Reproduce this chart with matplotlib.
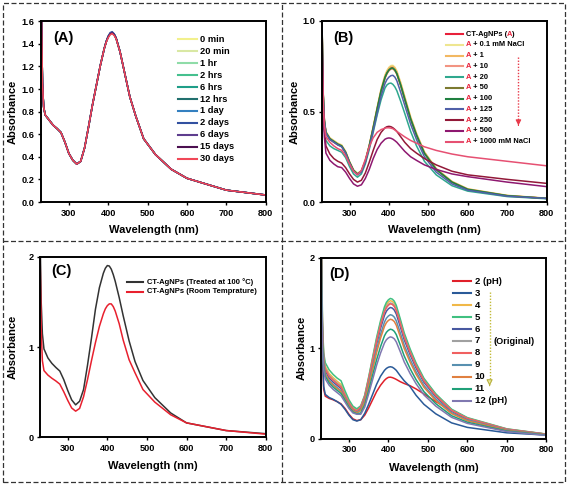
import matplotlib
matplotlib.use('Agg')
import matplotlib.pyplot as plt
from matplotlib.lines import Line2D
from matplotlib.patches import Rectangle

plt.rcParams['font.family'] = ['Liberation Sans', 'DejaVu Sans']
plt.rcParams['font.weight'] = 'bold'
plt.rcParams['axes.labelweight'] = 'bold'

# ---------------- data ----------------
wavelength = [230, 233, 236, 240, 250, 260, 270, 280, 290, 300, 310, 320, 330, 340, 350, 360,
              370, 380, 390, 395, 400, 405, 410, 415, 420, 430, 440, 455, 470, 490, 520, 560,
              600, 700, 800]

# Panel A : stability with time
a_labels = ['0 min', '20 min', '1 hr', '2 hrs', '6 hrs', '12 hrs', '1 day', '2 days', '6 days', '15 days', '30 days']
a_colors = ['#f2f08c', '#d9e8a4', '#8fdca8', '#45c08e', '#1f9e88', '#22706e', '#3480c0', '#3250a0', '#5e3d8e', '#4c1050', '#f04858']
a_abs = [
    [1.75, 1.05, 0.84, 0.77, 0.725, 0.68, 0.65, 0.615, 0.53, 0.43, 0.37, 0.336, 0.36, 0.48, 0.665, 0.86, 1.035, 1.21, 1.36, 1.42, 1.465, 1.492, 1.50, 1.485, 1.45, 1.33, 1.17, 0.93, 0.76, 0.56, 0.42, 0.29, 0.21, 0.105, 0.062],
    [1.75, 1.05, 0.84, 0.77, 0.725, 0.68, 0.65, 0.615, 0.53, 0.43, 0.37, 0.336, 0.36, 0.48, 0.665, 0.86, 1.035, 1.21, 1.36, 1.42, 1.465, 1.492, 1.50, 1.485, 1.45, 1.33, 1.17, 0.93, 0.76, 0.56, 0.42, 0.29, 0.21, 0.105, 0.062],
    [1.75, 1.05, 0.84, 0.77, 0.725, 0.68, 0.65, 0.615, 0.53, 0.43, 0.37, 0.336, 0.36, 0.48, 0.665, 0.86, 1.035, 1.21, 1.36, 1.42, 1.465, 1.492, 1.50, 1.485, 1.45, 1.33, 1.17, 0.93, 0.76, 0.56, 0.42, 0.29, 0.21, 0.105, 0.062],
    [1.75, 1.05, 0.84, 0.77, 0.725, 0.68, 0.65, 0.615, 0.53, 0.43, 0.37, 0.336, 0.36, 0.48, 0.665, 0.86, 1.035, 1.21, 1.36, 1.42, 1.465, 1.492, 1.50, 1.485, 1.45, 1.33, 1.17, 0.93, 0.76, 0.56, 0.42, 0.29, 0.21, 0.105, 0.062],
    [1.75, 1.05, 0.84, 0.77, 0.725, 0.68, 0.65, 0.615, 0.53, 0.43, 0.37, 0.336, 0.36, 0.48, 0.665, 0.86, 1.035, 1.21, 1.36, 1.42, 1.465, 1.492, 1.50, 1.485, 1.45, 1.33, 1.17, 0.93, 0.76, 0.56, 0.42, 0.29, 0.21, 0.105, 0.062],
    [1.75, 1.05, 0.84, 0.77, 0.725, 0.68, 0.65, 0.615, 0.53, 0.43, 0.37, 0.336, 0.36, 0.48, 0.665, 0.86, 1.035, 1.21, 1.36, 1.42, 1.465, 1.492, 1.50, 1.485, 1.45, 1.33, 1.17, 0.93, 0.76, 0.56, 0.42, 0.29, 0.21, 0.105, 0.062],
    [1.75, 1.05, 0.84, 0.77, 0.725, 0.68, 0.65, 0.615, 0.53, 0.43, 0.37, 0.336, 0.36, 0.48, 0.665, 0.86, 1.035, 1.21, 1.36, 1.42, 1.465, 1.492, 1.50, 1.485, 1.45, 1.33, 1.17, 0.93, 0.76, 0.56, 0.42, 0.29, 0.21, 0.105, 0.062],
    [1.75, 1.05, 0.84, 0.77, 0.725, 0.68, 0.65, 0.615, 0.53, 0.43, 0.37, 0.336, 0.36, 0.48, 0.665, 0.86, 1.035, 1.21, 1.36, 1.425, 1.47, 1.50, 1.508, 1.49, 1.455, 1.33, 1.17, 0.93, 0.76, 0.56, 0.42, 0.29, 0.21, 0.105, 0.062],
    [1.75, 1.05, 0.84, 0.77, 0.725, 0.68, 0.65, 0.615, 0.53, 0.43, 0.37, 0.336, 0.36, 0.48, 0.665, 0.86, 1.035, 1.21, 1.36, 1.42, 1.465, 1.492, 1.50, 1.485, 1.45, 1.33, 1.17, 0.93, 0.76, 0.56, 0.42, 0.29, 0.21, 0.105, 0.062],
    [1.75, 1.05, 0.84, 0.77, 0.725, 0.68, 0.65, 0.615, 0.53, 0.43, 0.37, 0.336, 0.36, 0.48, 0.665, 0.86, 1.035, 1.21, 1.36, 1.418, 1.46, 1.487, 1.495, 1.48, 1.45, 1.33, 1.17, 0.93, 0.76, 0.56, 0.42, 0.29, 0.21, 0.105, 0.062],
    [1.75, 1.05, 0.84, 0.77, 0.725, 0.68, 0.65, 0.615, 0.53, 0.43, 0.37, 0.336, 0.36, 0.48, 0.665, 0.86, 1.035, 1.21, 1.36, 1.415, 1.455, 1.482, 1.49, 1.475, 1.445, 1.33, 1.17, 0.93, 0.76, 0.56, 0.42, 0.29, 0.21, 0.105, 0.062],
]

# Panel B : NaCl
b_labels = ['CT-AgNPs (A)', 'A + 0.1 mM NaCl', 'A + 1', 'A + 10', 'A + 20', 'A + 50', 'A + 100',
            'A + 125', 'A + 250', 'A + 500', 'A + 1000 mM NaCl']
b_colors = ['#e8203a', '#eee690', '#f2b862', '#f29482', '#2fa88e', '#7c7a30', '#1f8040',
            '#5060a8', '#921838', '#8e1870', '#e65072']
b_abs = [
    [0.98, 0.59, 0.445, 0.38, 0.348, 0.333, 0.318, 0.308, 0.272, 0.218, 0.174, 0.154, 0.17, 0.225, 0.31, 0.41, 0.515, 0.615, 0.69, 0.715, 0.732, 0.741, 0.742, 0.732, 0.712, 0.647, 0.572, 0.462, 0.372, 0.272, 0.181, 0.111, 0.071, 0.035, 0.02],
    [1.0, 0.61, 0.455, 0.39, 0.355, 0.34, 0.325, 0.315, 0.28, 0.224, 0.178, 0.158, 0.174, 0.23, 0.316, 0.418, 0.524, 0.626, 0.702, 0.727, 0.745, 0.754, 0.755, 0.745, 0.725, 0.66, 0.585, 0.472, 0.38, 0.278, 0.186, 0.114, 0.073, 0.037, 0.021],
    [1.0, 0.605, 0.452, 0.388, 0.353, 0.338, 0.323, 0.313, 0.278, 0.222, 0.177, 0.157, 0.172, 0.228, 0.314, 0.415, 0.52, 0.622, 0.698, 0.723, 0.74, 0.749, 0.75, 0.74, 0.72, 0.655, 0.58, 0.468, 0.377, 0.276, 0.184, 0.113, 0.072, 0.036, 0.021],
    [0.98, 0.59, 0.44, 0.378, 0.344, 0.33, 0.316, 0.306, 0.271, 0.217, 0.173, 0.153, 0.168, 0.222, 0.307, 0.406, 0.51, 0.608, 0.683, 0.708, 0.725, 0.734, 0.735, 0.725, 0.705, 0.64, 0.566, 0.456, 0.367, 0.268, 0.178, 0.109, 0.069, 0.034, 0.02],
    [0.9, 0.55, 0.40, 0.34, 0.31, 0.295, 0.285, 0.275, 0.245, 0.195, 0.155, 0.137, 0.155, 0.21, 0.29, 0.385, 0.48, 0.565, 0.63, 0.647, 0.655, 0.657, 0.65, 0.636, 0.615, 0.555, 0.49, 0.39, 0.31, 0.225, 0.15, 0.09, 0.06, 0.03, 0.018],
    [0.99, 0.595, 0.447, 0.382, 0.347, 0.332, 0.318, 0.308, 0.273, 0.219, 0.174, 0.154, 0.169, 0.224, 0.309, 0.408, 0.512, 0.612, 0.686, 0.711, 0.728, 0.737, 0.738, 0.728, 0.708, 0.643, 0.568, 0.458, 0.368, 0.268, 0.179, 0.109, 0.069, 0.034, 0.02],
    [1.0, 0.60, 0.45, 0.385, 0.35, 0.335, 0.32, 0.31, 0.275, 0.22, 0.175, 0.155, 0.17, 0.225, 0.31, 0.41, 0.515, 0.615, 0.69, 0.714, 0.73, 0.739, 0.74, 0.73, 0.71, 0.645, 0.57, 0.46, 0.37, 0.27, 0.18, 0.11, 0.07, 0.035, 0.02],
    [1.0, 0.6, 0.45, 0.38, 0.345, 0.33, 0.315, 0.305, 0.27, 0.215, 0.17, 0.15, 0.165, 0.22, 0.30, 0.395, 0.49, 0.585, 0.655, 0.677, 0.69, 0.698, 0.70, 0.69, 0.67, 0.605, 0.535, 0.43, 0.345, 0.25, 0.165, 0.10, 0.065, 0.032, 0.02],
    [0.9, 0.55, 0.40, 0.31, 0.265, 0.24, 0.225, 0.215, 0.19, 0.155, 0.125, 0.11, 0.12, 0.16, 0.22, 0.285, 0.345, 0.385, 0.41, 0.416, 0.418, 0.416, 0.41, 0.401, 0.39, 0.36, 0.33, 0.295, 0.27, 0.24, 0.205, 0.17, 0.15, 0.125, 0.103],
    [0.85, 0.5, 0.36, 0.27, 0.23, 0.21, 0.195, 0.19, 0.165, 0.13, 0.10, 0.087, 0.095, 0.13, 0.18, 0.24, 0.29, 0.325, 0.347, 0.352, 0.354, 0.352, 0.347, 0.339, 0.33, 0.305, 0.28, 0.25, 0.23, 0.205, 0.18, 0.155, 0.14, 0.11, 0.085],
    [0.9, 0.55, 0.42, 0.36, 0.33, 0.31, 0.295, 0.285, 0.255, 0.21, 0.17, 0.15, 0.175, 0.235, 0.305, 0.355, 0.385, 0.40, 0.408, 0.41, 0.41, 0.408, 0.405, 0.398, 0.39, 0.375, 0.36, 0.34, 0.325, 0.305, 0.285, 0.265, 0.25, 0.225, 0.20],
]

# Panel C : thermal stability
c_labels = ['CT-AgNPs (Treated at 100 \u00b0C)', 'CT-AgNPs (Room Temprature)']
c_colors = ['#333333', '#e8202e']
c_abs = [
    [2.3, 1.5, 1.15, 0.98, 0.88, 0.82, 0.775, 0.735, 0.64, 0.52, 0.415, 0.36, 0.40, 0.53, 0.80, 1.10, 1.42, 1.66, 1.82, 1.875, 1.905, 1.90, 1.865, 1.805, 1.73, 1.55, 1.35, 1.07, 0.84, 0.63, 0.44, 0.27, 0.16, 0.075, 0.04],
    [2.1, 1.2, 0.85, 0.74, 0.69, 0.655, 0.625, 0.59, 0.505, 0.41, 0.325, 0.29, 0.32, 0.45, 0.64, 0.85, 1.05, 1.23, 1.37, 1.425, 1.46, 1.48, 1.48, 1.45, 1.40, 1.26, 1.08, 0.86, 0.715, 0.53, 0.39, 0.25, 0.16, 0.075, 0.035],
]

# Panel D : pH
d_labels = ['2 (pH)', '3', '4', '5', '6', '7', '8', '9', '10', '11', '12 (pH)']
d_colors = ['#e0202a', '#2a5a98', '#f0b848', '#40c080', '#4858a0', '#a0a0a0', '#f06060',
            '#5890b0', '#e08040', '#20a078', '#8078b0']
d_abs = [
    [2.0, 0.9, 0.55, 0.47, 0.445, 0.43, 0.41, 0.385, 0.335, 0.27, 0.22, 0.20, 0.21, 0.26, 0.34, 0.43, 0.52, 0.59, 0.645, 0.665, 0.678, 0.68, 0.675, 0.666, 0.655, 0.63, 0.61, 0.585, 0.55, 0.495, 0.41, 0.31, 0.205, 0.095, 0.05],
    [2.0, 0.95, 0.58, 0.49, 0.455, 0.435, 0.41, 0.38, 0.325, 0.26, 0.21, 0.195, 0.21, 0.28, 0.38, 0.49, 0.60, 0.69, 0.755, 0.777, 0.79, 0.795, 0.79, 0.775, 0.755, 0.695, 0.64, 0.575, 0.48, 0.38, 0.275, 0.175, 0.125, 0.065, 0.04],
    [2.2, 1.25, 0.92, 0.80, 0.72, 0.675, 0.635, 0.60, 0.50, 0.41, 0.345, 0.32, 0.358, 0.473, 0.671, 0.885, 1.098, 1.281, 1.434, 1.482, 1.510, 1.525, 1.517, 1.495, 1.449, 1.304, 1.151, 0.976, 0.824, 0.656, 0.488, 0.320, 0.229, 0.107, 0.050],
    [2.3, 1.3, 0.95, 0.84, 0.76, 0.71, 0.67, 0.64, 0.53, 0.43, 0.36, 0.33, 0.364, 0.481, 0.682, 0.899, 1.116, 1.302, 1.457, 1.507, 1.535, 1.55, 1.542, 1.519, 1.473, 1.325, 1.170, 0.992, 0.837, 0.667, 0.496, 0.326, 0.233, 0.109, 0.051],
    [2.1, 1.15, 0.86, 0.75, 0.67, 0.625, 0.59, 0.555, 0.465, 0.385, 0.325, 0.30, 0.341, 0.450, 0.638, 0.841, 1.044, 1.218, 1.363, 1.409, 1.436, 1.45, 1.443, 1.421, 1.378, 1.240, 1.095, 0.928, 0.783, 0.624, 0.464, 0.305, 0.218, 0.102, 0.048],
    [2.2, 1.2, 0.9, 0.78, 0.70, 0.655, 0.615, 0.58, 0.485, 0.40, 0.335, 0.31, 0.353, 0.465, 0.660, 0.870, 1.080, 1.260, 1.410, 1.458, 1.485, 1.50, 1.493, 1.47, 1.425, 1.283, 1.133, 0.960, 0.810, 0.645, 0.480, 0.315, 0.225, 0.105, 0.050],
    [2.2, 1.2, 0.88, 0.77, 0.69, 0.645, 0.605, 0.57, 0.48, 0.395, 0.33, 0.305, 0.350, 0.462, 0.656, 0.864, 1.073, 1.252, 1.401, 1.448, 1.475, 1.49, 1.483, 1.46, 1.416, 1.274, 1.125, 0.954, 0.805, 0.641, 0.477, 0.313, 0.224, 0.104, 0.049],
    [2.1, 1.1, 0.83, 0.72, 0.645, 0.60, 0.565, 0.53, 0.45, 0.37, 0.31, 0.29, 0.322, 0.425, 0.603, 0.795, 0.986, 1.151, 1.288, 1.332, 1.356, 1.37, 1.363, 1.343, 1.302, 1.171, 1.034, 0.877, 0.740, 0.589, 0.438, 0.288, 0.206, 0.096, 0.045],
    [2.0, 1.1, 0.82, 0.71, 0.635, 0.59, 0.555, 0.52, 0.44, 0.365, 0.305, 0.285, 0.310, 0.409, 0.581, 0.766, 0.950, 1.109, 1.241, 1.283, 1.307, 1.32, 1.313, 1.294, 1.254, 1.129, 0.997, 0.845, 0.713, 0.568, 0.422, 0.277, 0.198, 0.092, 0.044],
    [2.0, 1.05, 0.80, 0.69, 0.615, 0.57, 0.535, 0.50, 0.425, 0.35, 0.295, 0.275, 0.284, 0.375, 0.532, 0.702, 0.871, 1.016, 1.137, 1.176, 1.198, 1.21, 1.204, 1.186, 1.150, 1.035, 0.914, 0.774, 0.653, 0.520, 0.387, 0.254, 0.182, 0.085, 0.040],
    [1.9, 1.0, 0.77, 0.66, 0.59, 0.545, 0.51, 0.475, 0.405, 0.335, 0.285, 0.27, 0.27, 0.349, 0.495, 0.653, 0.810, 0.945, 1.058, 1.094, 1.114, 1.125, 1.119, 1.103, 1.069, 0.962, 0.849, 0.720, 0.608, 0.484, 0.360, 0.236, 0.169, 0.079, 0.037],
]

x_ticks = [300, 400, 500, 600, 700, 800]
a_yticks = [0.0, 0.2, 0.4, 0.6, 0.8, 1.0, 1.2, 1.4, 1.6]
b_yticks = [0.0, 0.5, 1.0]
cd_yticks = [0, 1, 2]

# ---------------- figure ----------------
fig = plt.figure(figsize=(5.67, 4.84), dpi=100)
W, H = 567.0, 484.0


def fax(l, t, r, b):
    return fig.add_axes([l / W, 1 - b / H, (r - l) / W, (b - t) / H])


axA = fax(41.3, 21.3, 265.7, 202)
axB = fax(322, 21, 546.5, 202)
axC = fax(40, 257, 265.7, 437.3)
axD = fax(321.3, 257.7, 546.3, 438.7)


def style(ax, ylim, yticks, ylabels, xlabel, xl_y, yl_x):
    ax.set_xlim(230, 800)
    ax.set_ylim(*ylim)
    ax.set_xticks(x_ticks)
    ax.set_yticks(yticks)
    ax.set_yticklabels(ylabels)
    ax.tick_params(direction='out', length=2.5, width=1.0, labelsize=6.6, pad=2.2)
    for lab in ax.get_xticklabels() + ax.get_yticklabels():
        lab.set_fontweight('bold')
    for s in ax.spines.values():
        s.set_linewidth(1.4)
    ax.text(0.5, xl_y, xlabel, transform=ax.transAxes, ha='center', va='center',
            fontsize=8, fontweight='bold')
    ax.text(yl_x, 0.5, 'Absorbance', transform=ax.transAxes, ha='center', va='center',
            rotation=90, fontsize=8, fontweight='bold')


def legend_rows(ax, colors, labels, x0, x1, xt, ytop, dy, fs, lw=1.5):
    for i, (c, lab) in enumerate(zip(colors, labels)):
        y = ytop - i * dy
        ax.add_line(Line2D([x0, x1], [y, y], transform=ax.transAxes, color=c, lw=lw))
        ax.text(xt, y, lab, transform=ax.transAxes, ha='left', va='center',
                fontsize=fs, fontweight='bold')


# Panel A
for ys, c in zip(a_abs, a_colors):
    axA.plot(wavelength, ys, color=c, lw=1.1)
style(axA, (0, 1.6), a_yticks, ['%.1f' % v for v in a_yticks], 'Wavelength (nm)', -0.155, -0.128)
axA.text(0.053, 0.906, '(A)', transform=axA.transAxes, fontsize=10.5, fontweight='bold', va='center')
legend_rows(axA, a_colors, a_labels, 0.610, 0.695, 0.707, 0.902, 0.0664, 6.7)

# Panel B
for ys, c in zip(b_abs, b_colors):
    axB.plot(wavelength, ys, color=c, lw=1.1)
style(axB, (0, 1.0), b_yticks, ['%.1f' % v for v in b_yticks], 'Wavelemgth (nm)', -0.155, -0.12)
axB.text(0.049, 0.906, '(B)', transform=axB.transAxes, fontsize=10.5, fontweight='bold', va='center')
red_a = '#e8203a'
fsb = 5.4
for i, (c, lab) in enumerate(zip(b_colors, b_labels)):
    y = 0.927 - i * 0.0594
    axB.add_line(Line2D([0.554, 0.629], [y, y], transform=axB.transAxes, color=c, lw=1.5))
    if lab.startswith('CT'):
        t1 = axB.text(0.641, y, 'CT-AgNPs (', transform=axB.transAxes, ha='left', va='center',
                      fontsize=fsb, fontweight='bold')
        t2 = axB.annotate('A', xy=(1, 0), xycoords=t1, ha='left', va='bottom',
                          fontsize=fsb, fontweight='bold', color=red_a)
        axB.annotate(')', xy=(1, 0), xycoords=t2, ha='left', va='bottom',
                     fontsize=fsb, fontweight='bold')
    else:
        t1 = axB.text(0.641, y, 'A', transform=axB.transAxes, ha='left', va='center',
                      fontsize=fsb, fontweight='bold', color=red_a)
        axB.annotate(lab[1:], xy=(1, 0), xycoords=t1, ha='left', va='bottom',
                     fontsize=fsb, fontweight='bold')
axB.plot([0.875, 0.875], [0.803, 0.43], transform=axB.transAxes, color='#e83a4a',
         lw=1.0, ls=(0, (1, 1.2)))
axB.annotate('', xy=(0.875, 0.407), xytext=(0.875, 0.44), xycoords='axes fraction',
             arrowprops=dict(arrowstyle='-|>', color='#e83a4a', lw=0.8, mutation_scale=8))

# Panel C
for ys, c in zip(c_abs, c_colors):
    axC.plot(wavelength, ys, color=c, lw=1.1)
style(axC, (0, 2), cd_yticks, ['0', '1', '2'], 'Wavelength (nm)', -0.159, -0.12)
axC.text(0.05, 0.92, '(C)', transform=axC.transAxes, fontsize=10.5, fontweight='bold', va='center')
legend_rows(axC, c_colors, c_labels, 0.384, 0.458, 0.473, 0.861, 0.055, 5.5)

# Panel D
for ys, c in zip(d_abs, d_colors):
    axD.plot(wavelength, ys, color=c, lw=1.1)
style(axD, (0, 2), cd_yticks, ['0', '1', '2'], 'Wavelength (nm)', -0.16, -0.087)
axD.text(0.037, 0.908, '(D)', transform=axD.transAxes, fontsize=10.5, fontweight='bold', va='center')
legend_rows(axD, d_colors, d_labels, 0.585, 0.667, 0.682, 0.870, 0.066, 6.8)
axD.plot([0.748, 0.748], [0.811, 0.30], transform=axD.transAxes, color='#c2bb3a',
         lw=1.0, ls=(0, (1, 1.2)))
axD.annotate('', xy=(0.748, 0.276), xytext=(0.748, 0.31), xycoords='axes fraction',
             arrowprops=dict(arrowstyle='-|>', facecolor='#ecec9c', edgecolor='#b8b040',
                             lw=0.8, mutation_scale=9))
axD.text(0.766, 0.539, '(Original)', transform=axD.transAxes, ha='left', va='center',
         fontsize=6.6, fontweight='bold')

# dashed panel frames
dash = (0, (4, 2))
fig.add_artist(Rectangle((2.5 / W, 2.5 / H), (W - 5) / W, (H - 5) / H, transform=fig.transFigure,
                         fill=False, ls=dash, lw=0.9, edgecolor='#333333'))
fig.add_artist(Line2D([282.3 / W, 282.3 / W], [2.5 / H, 1 - 2.5 / H], transform=fig.transFigure,
                      ls=dash, lw=0.9, color='#333333'))
fig.add_artist(Line2D([2.5 / W, 1 - 2.5 / W], [1 - 240.7 / H, 1 - 240.7 / H], transform=fig.transFigure,
                      ls=dash, lw=0.9, color='#333333'))

fig.savefig('out.png', dpi=100)
